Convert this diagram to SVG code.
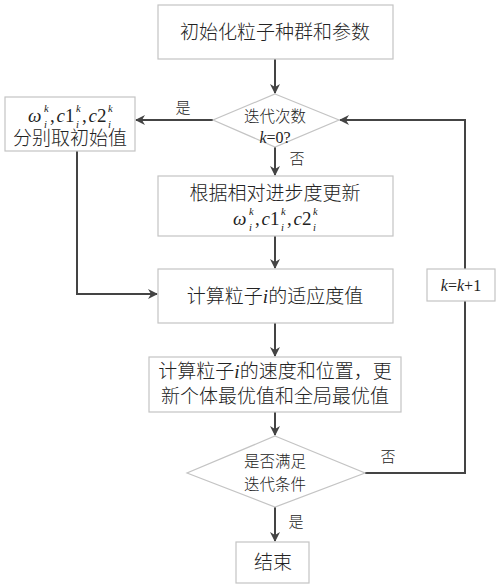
<svg xmlns="http://www.w3.org/2000/svg" width="500" height="588" viewBox="0 0 500 588">
<style>
.box{fill:#fff;stroke:#c4c4c4;stroke-width:1.2}
.cn{font-family:"Noto Sans CJK SC","Noto Sans",sans-serif;font-weight:300;fill:#222;text-anchor:middle}
.big{font-size:19px}
.mid{font-size:15.5px}
.lbl{font-size:15px}
.math{font-family:"Liberation Serif",serif;font-size:19px;fill:#222;text-anchor:middle}
.m{font-family:"Liberation Serif",serif;font-size:19px;fill:#222}
.ss{font-family:"Liberation Serif",serif;font-size:10.5px;font-style:italic;fill:#222}
.it{font-style:italic}
.ln{fill:none;stroke:#444;stroke-width:2}
</style>
<defs>
<marker id="ah" markerWidth="10" markerHeight="10" refX="9" refY="5" orient="auto" markerUnits="userSpaceOnUse">
<path d="M0,0 L10,5 L0,10 L3,5 z" fill="#444"/>
</marker>
<g id="formula">
<text class="m it" x="30" y="122">ω</text>
<text class="ss" x="46" y="128">i</text>
<text class="ss" x="46" y="112">k</text>
<text class="m" x="52" y="122">,</text>
<text class="m it" x="58.5" y="122">c</text>
<text class="m" x="67" y="122">1</text>
<text class="ss" x="78" y="128">i</text>
<text class="ss" x="78" y="112">k</text>
<text class="m" x="84" y="122">,</text>
<text class="m it" x="90.5" y="122">c</text>
<text class="m" x="99" y="122">2</text>
<text class="ss" x="110" y="128">i</text>
<text class="ss" x="110" y="112">k</text>
</g>
</defs>
<rect width="500" height="588" fill="#fff"/>
<g id="connectors">
<path class="ln" d="M275,59 V93" marker-end="url(#ah)"/>
<path class="ln" d="M213,120 H136" marker-end="url(#ah)"/>
<path class="ln" d="M275,147 V175" marker-end="url(#ah)"/>
<path class="ln" d="M275,236 V268" marker-end="url(#ah)"/>
<path class="ln" d="M77,151 V294 H157" marker-end="url(#ah)"/>
<path class="ln" d="M275,323 V356" marker-end="url(#ah)"/>
<path class="ln" d="M275,412 V435" marker-end="url(#ah)"/>
<path class="ln" d="M365,473 H465 V120 H340" marker-end="url(#ah)"/>
<path class="ln" d="M275,507 V541" marker-end="url(#ah)"/>
<text class="cn lbl" x="183" y="113">是</text>
<text class="cn lbl" x="297" y="164">否</text>
<text class="cn lbl" x="388" y="462">否</text>
<text class="cn lbl" x="296" y="527">是</text>
</g>
<g id="init">
<rect class="box" x="158" y="5" width="235" height="54"/>
<text class="cn big" x="275" y="39">初始化粒子种群和参数</text>
</g>
<g id="check-k">
<path class="box" d="M275,94 L339,120 L275,147 L213,120 z"/>
<text class="cn mid" x="275" y="122">迭代次数</text>
<text class="math" style="font-size:16px" x="275" y="143"><tspan class="it">k</tspan>=0?</text>
</g>
<g id="init-params">
<rect class="box" x="5" y="97" width="130" height="54"/>
<use href="#formula" transform="translate(-2,0)"/>
<text class="cn big" x="70" y="145">分别取初始值</text>
</g>
<g id="update">
<rect class="box" x="158" y="176" width="235" height="60"/>
<text class="cn big" x="275" y="200">根据相对进步度更新</text>
<use href="#formula" transform="translate(203,103)"/>
</g>
<g id="fitness">
<rect class="box" x="158" y="269" width="235" height="54"/>
<text class="cn big" x="275" y="303">计算粒子<tspan style="font-family:'Liberation Serif',serif;font-style:italic">i</tspan>的适应度值</text>
</g>
<g id="velocity">
<rect class="box" x="149" y="357" width="252" height="55"/>
<text class="cn big" x="275" y="378">计算粒子<tspan style="font-family:'Liberation Serif',serif;font-style:italic">i</tspan>的速度和位置，更</text>
<text class="cn big" x="275" y="403">新个体最优值和全局最优值</text>
</g>
<g id="check-iter">
<path class="box" d="M275,436 L365,473 L275,507 L187,473 z"/>
<text class="cn mid" x="275" y="467">是否满足</text>
<text class="cn mid" x="275" y="490">迭代条件</text>
</g>
<g id="increment">
<rect class="box" x="427" y="269" width="68" height="32"/>
<text class="math" style="font-size:16px" x="461" y="291"><tspan class="it">k</tspan>=<tspan class="it">k</tspan>+1</text>
</g>
<g id="end">
<rect class="box" x="236" y="542" width="73" height="41"/>
<text class="cn big" x="273" y="569">结束</text>
</g>
</svg>
